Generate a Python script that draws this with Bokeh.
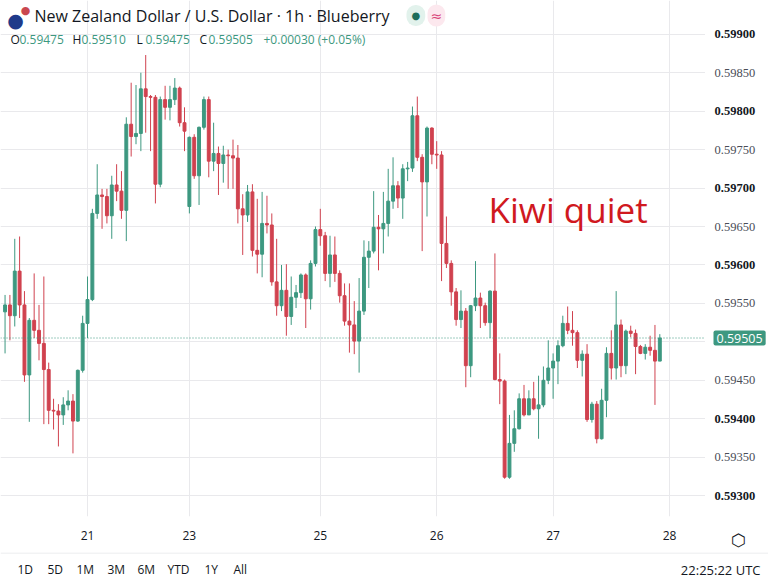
from bokeh.embed import file_html
from bokeh.layouts import column, row
from bokeh.models import BoxAnnotation, ColumnDataSource, FixedTicker, Label, Range1d, Span
from bokeh.plotting import figure
from bokeh.resources import INLINE

# hourly NZD/USD candles
opens = [
    0.59539, 0.59548, 0.59534, 0.59592, 0.59548, 0.59457, 0.59528, 0.59515, 0.59498, 0.59464,
    0.59411, 0.59410, 0.59405, 0.59418, 0.59423, 0.59397, 0.59463, 0.59524, 0.59555, 0.59667,
    0.59691, 0.59689, 0.59664, 0.59704, 0.59696, 0.59671, 0.59783, 0.59767, 0.59771, 0.59829,
    0.59819, 0.59818, 0.59705, 0.59815, 0.59805, 0.59815, 0.59830, 0.59785, 0.59676, 0.59766,
    0.59716, 0.59779, 0.59815, 0.59735, 0.59745, 0.59732, 0.59743, 0.59742, 0.59739, 0.59673,
    0.59665, 0.59695, 0.59619, 0.59614, 0.59654, 0.59652, 0.59578, 0.59547, 0.59567, 0.59533,
    0.59558, 0.59564, 0.59587, 0.59556, 0.59602, 0.59646, 0.59638, 0.59589, 0.59613, 0.59589,
    0.59560, 0.59527, 0.59522, 0.59501, 0.59540, 0.59610, 0.59618, 0.59649, 0.59647, 0.59654,
    0.59683, 0.59703, 0.59687, 0.59725, 0.59726, 0.59794, 0.59740, 0.59708, 0.59778, 0.59744,
    0.59743, 0.59628, 0.59602, 0.59565, 0.59529, 0.59540, 0.59469, 0.59547, 0.59557, 0.59547,
    0.59525, 0.59566, 0.59451, 0.59449, 0.59324, 0.59368, 0.59387, 0.59426, 0.59405, 0.59426,
    0.59413, 0.59418, 0.59450, 0.59466, 0.59475, 0.59495, 0.59524, 0.59515, 0.59512, 0.59476,
    0.59484, 0.59399, 0.59419, 0.59374, 0.59424, 0.59485, 0.59466, 0.59522, 0.59469, 0.59514,
    0.59511, 0.59494, 0.59485, 0.59493, 0.59489, 0.59475,
]
highs = [
    0.59561, 0.59561, 0.59634, 0.59637, 0.59566, 0.59531, 0.59589, 0.59548, 0.59585, 0.59473,
    0.59426, 0.59419, 0.59428, 0.59437, 0.59432, 0.59464, 0.59534, 0.59585, 0.59673, 0.59731,
    0.59699, 0.59699, 0.59716, 0.59731, 0.59722, 0.59792, 0.59837, 0.59834, 0.59850, 0.59873,
    0.59821, 0.59821, 0.59819, 0.59833, 0.59833, 0.59843, 0.59832, 0.59805, 0.59767, 0.59770,
    0.59780, 0.59819, 0.59819, 0.59785, 0.59754, 0.59755, 0.59750, 0.59763, 0.59756, 0.59692,
    0.59704, 0.59705, 0.59686, 0.59695, 0.59690, 0.59667, 0.59634, 0.59600, 0.59601, 0.59585,
    0.59574, 0.59589, 0.59589, 0.59606, 0.59650, 0.59673, 0.59643, 0.59638, 0.59637, 0.59593,
    0.59576, 0.59576, 0.59553, 0.59583, 0.59632, 0.59631, 0.59696, 0.59665, 0.59695, 0.59725,
    0.59740, 0.59709, 0.59731, 0.59734, 0.59806, 0.59819, 0.59744, 0.59780, 0.59779, 0.59761,
    0.59748, 0.59663, 0.59606, 0.59570, 0.59567, 0.59544, 0.59548, 0.59605, 0.59564, 0.59551,
    0.59567, 0.59615, 0.59485, 0.59451, 0.59405, 0.59411, 0.59433, 0.59444, 0.59437, 0.59448,
    0.59456, 0.59468, 0.59502, 0.59485, 0.59502, 0.59534, 0.59546, 0.59540, 0.59515, 0.59489,
    0.59497, 0.59422, 0.59423, 0.59439, 0.59493, 0.59515, 0.59566, 0.59529, 0.59516, 0.59521,
    0.59516, 0.59496, 0.59497, 0.59508, 0.59522, 0.59510,
]
lows = [
    0.59485, 0.59502, 0.59520, 0.59531, 0.59448, 0.59396, 0.59505, 0.59476, 0.59393, 0.59393,
    0.59386, 0.59364, 0.59392, 0.59411, 0.59355, 0.59396, 0.59460, 0.59505, 0.59553, 0.59660,
    0.59647, 0.59654, 0.59634, 0.59683, 0.59660, 0.59631, 0.59741, 0.59757, 0.59748, 0.59772,
    0.59748, 0.59680, 0.59701, 0.59789, 0.59788, 0.59808, 0.59780, 0.59748, 0.59667, 0.59712,
    0.59678, 0.59776, 0.59714, 0.59722, 0.59691, 0.59707, 0.59699, 0.59699, 0.59654, 0.59613,
    0.59656, 0.59611, 0.59589, 0.59584, 0.59641, 0.59573, 0.59534, 0.59540, 0.59508, 0.59522,
    0.59544, 0.59557, 0.59518, 0.59542, 0.59598, 0.59625, 0.59579, 0.59571, 0.59578, 0.59551,
    0.59521, 0.59486, 0.59484, 0.59460, 0.59535, 0.59570, 0.59615, 0.59593, 0.59615, 0.59637,
    0.59673, 0.59674, 0.59660, 0.59709, 0.59721, 0.59735, 0.59618, 0.59663, 0.59731, 0.59725,
    0.59579, 0.59596, 0.59547, 0.59521, 0.59518, 0.59441, 0.59454, 0.59540, 0.59518, 0.59521,
    0.59505, 0.59450, 0.59419, 0.59322, 0.59322, 0.59357, 0.59386, 0.59403, 0.59405, 0.59411,
    0.59374, 0.59415, 0.59445, 0.59426, 0.59445, 0.59493, 0.59510, 0.59495, 0.59466, 0.59455,
    0.59396, 0.59395, 0.59368, 0.59373, 0.59402, 0.59451, 0.59451, 0.59454, 0.59458, 0.59506,
    0.59458, 0.59484, 0.59477, 0.59482, 0.59418, 0.59475,
]
closes = [
    0.59548, 0.59534, 0.59592, 0.59548, 0.59457, 0.59528, 0.59515, 0.59498, 0.59464, 0.59411,
    0.59410, 0.59405, 0.59418, 0.59423, 0.59397, 0.59463, 0.59524, 0.59555, 0.59667, 0.59691,
    0.59689, 0.59664, 0.59704, 0.59696, 0.59671, 0.59783, 0.59767, 0.59771, 0.59829, 0.59819,
    0.59818, 0.59705, 0.59815, 0.59805, 0.59815, 0.59830, 0.59785, 0.59774, 0.59766, 0.59716,
    0.59779, 0.59815, 0.59735, 0.59745, 0.59732, 0.59743, 0.59742, 0.59739, 0.59673, 0.59665,
    0.59695, 0.59619, 0.59614, 0.59654, 0.59652, 0.59578, 0.59547, 0.59567, 0.59533, 0.59558,
    0.59564, 0.59587, 0.59556, 0.59602, 0.59646, 0.59638, 0.59589, 0.59613, 0.59589, 0.59560,
    0.59527, 0.59522, 0.59501, 0.59540, 0.59610, 0.59618, 0.59649, 0.59647, 0.59654, 0.59683,
    0.59703, 0.59687, 0.59725, 0.59726, 0.59794, 0.59740, 0.59708, 0.59778, 0.59744, 0.59743,
    0.59628, 0.59602, 0.59565, 0.59529, 0.59540, 0.59469, 0.59547, 0.59557, 0.59547, 0.59525,
    0.59566, 0.59451, 0.59449, 0.59324, 0.59368, 0.59387, 0.59426, 0.59405, 0.59426, 0.59413,
    0.59418, 0.59450, 0.59466, 0.59475, 0.59495, 0.59524, 0.59515, 0.59512, 0.59476, 0.59484,
    0.59399, 0.59419, 0.59374, 0.59424, 0.59485, 0.59466, 0.59522, 0.59469, 0.59514, 0.59511,
    0.59494, 0.59485, 0.59493, 0.59489, 0.59475, 0.59505,
]

# day labels sit on the first bar of each day (weekend gap after bar 37)
day_bars = [17, 38, 65, 89, 113, 137]
day_labels = ["21", "23", "25", "26", "27", "28"]

grid_prices = [0.593, 0.5935, 0.594, 0.5945, 0.595, 0.5955, 0.596, 0.5965, 0.597, 0.5975, 0.598, 0.5985, 0.599]
axis_prices = [0.593, 0.5935, 0.594, 0.5945, 0.5955, 0.596, 0.5965, 0.597, 0.5975, 0.598, 0.5985, 0.599]

range_buttons = ["1D", "5D", "1M", "3M", "6M", "YTD", "1Y", "All"]

UP = "#3d9880"
DOWN = "#d0424f"
INK = "#131722"
FONT = "Open Sans"

CHART_W, CHART_H, AXIS_H, SCALE_W, BAR_H = 705, 520, 32, 63, 25
Y0, Y1 = 0.592729, 0.599439


def no_ticks(axis, standoff):
    axis.axis_line_color = None
    axis.major_tick_line_color = None
    axis.minor_tick_line_color = None
    axis.major_label_standoff = standoff


# ---- main chart ----
p = figure(width=CHART_W, height=CHART_H + AXIS_H, output_backend="svg", toolbar_location=None,
           x_range=Range1d(-0.94, 144.42), y_range=Range1d(Y0, Y1),
           y_axis_location=None, min_border_left=0, min_border_right=0,
           min_border_top=0, min_border_bottom=AXIS_H, outline_line_color=None)

p.xaxis.ticker = FixedTicker(ticks=day_bars)
p.xaxis.major_label_overrides = {b: t for b, t in zip(day_bars, day_labels)}
no_ticks(p.xaxis, 8)
p.xaxis.major_label_text_font = FONT
p.xaxis.major_label_text_font_size = "12px"
p.xaxis.major_label_text_color = INK

p.xgrid.ticker = FixedTicker(ticks=day_bars)
p.ygrid.ticker = FixedTicker(ticks=grid_prices)
p.grid.grid_line_color = "#e9e9ec"

src = ColumnDataSource(data=dict(
    x=list(range(len(closes))),
    high=highs,
    low=lows,
    top=[max(o, c) for o, c in zip(opens, closes)],
    bottom=[min(o, c) for o, c in zip(opens, closes)],
    color=[UP if c >= o else DOWN for o, c in zip(opens, closes)],
))
p.segment(x0="x", y0="low", x1="x", y1="high", line_color="color", line_width=1, source=src)
p.vbar(x="x", width=0.6, top="top", bottom="bottom", fill_color="color",
       line_color="color", line_width=1, source=src)

p.add_layout(Span(location=closes[-1], dimension="width", line_color=UP,
                  line_dash="1 2", line_width=1))


def screen_label(fig, x, y, text, **kw):
    kw.setdefault("text_font", FONT)
    kw.setdefault("text_font_size", "12px")
    kw.setdefault("text_color", INK)
    fig.add_layout(Label(x=x, y=y, x_units="screen", y_units="screen", text=text,
                         text_baseline="middle", **kw))


# header (y counted up from the frame bottom)
screen_label(p, 15, 497, "●", text_font="DejaVu Sans", text_font_size="19px",
             text_color="#1f3a8a", text_align="center")
screen_label(p, 25, 506, "●", text_font="DejaVu Sans", text_font_size="11px",
             text_color="#c9474f", text_align="center")
screen_label(p, 34, 501, "New Zealand Dollar / U.S. Dollar · 1h · Blueberry", text_font_size="16px")
screen_label(p, 406, 501, "●", text_font="DejaVu Sans", text_font_size="10px", text_color="#1e6f5c",
             background_fill_color="#e2f2ec", padding=5, border_radius=9)
screen_label(p, 427, 501, "≈", text_font="DejaVu Sans", text_font_size="14px", text_color="#d9477a",
             background_fill_color="#fce8ee", padding=3, border_radius=9)

change = closes[-1] - closes[-2]
pct = change / closes[-2] * 100
ohlc = [("O", 10, f"{opens[-1]:.5f}"), ("H", 72, f"{highs[-1]:.5f}"),
        ("L", 136, f"{lows[-1]:.5f}"), ("C", 199, f"{closes[-1]:.5f}")]
for letter, x, val in ohlc:
    screen_label(p, x, 477, letter)
    screen_label(p, x + 9, 477, val, text_color=UP)
screen_label(p, 263, 477, f"+{change:.5f} (+{pct:.2f}%)", text_color=UP)

screen_label(p, 488, 307, "Kiwi quiet", text_font_size="35px", text_color="#d0191f")

# ---- price scale, sharing the chart's vertical range ----
ps = figure(width=SCALE_W, height=CHART_H + AXIS_H, output_backend="svg", toolbar_location=None,
            x_range=Range1d(0, SCALE_W), y_range=p.y_range,
            y_axis_location=None, min_border_left=0, min_border_right=0,
            min_border_top=0, min_border_bottom=AXIS_H, outline_line_color=None)
ps.grid.visible = False
# settings icon sits in the scale's axis strip
ps.xaxis.ticker = FixedTicker(ticks=[33])
ps.xaxis.major_label_overrides = {33: "⬡"}
no_ticks(ps.xaxis, 7)
ps.xaxis.major_label_text_font = "DejaVu Sans"
ps.xaxis.major_label_text_font_size = "17px"
ps.xaxis.major_label_text_color = INK

bold = [abs(t * 1000 - round(t * 1000)) < 1e-6 for t in axis_prices]
ps.text(x=9, y=axis_prices, text=[f"{t:.5f}" for t in axis_prices],
        text_baseline="middle", text_font=FONT, text_font_size="12.5px",
        text_color=[INK if b else "#4a4d57" for b in bold],
        text_font_style=["bold" if b else "normal" for b in bold])
ps.add_layout(Label(x=8, y=closes[-1], text=f"{closes[-1]:.5f}", text_baseline="middle",
                    text_font=FONT, text_font_size="12.5px", text_color="white",
                    background_fill_color=UP, padding=3, border_radius=2))

# ---- bottom bar ----
pb = figure(width=CHART_W + SCALE_W, height=BAR_H, output_backend="svg", toolbar_location=None,
            x_range=Range1d(0, 1), y_range=Range1d(0, 1),
            x_axis_location=None, y_axis_location=None, min_border=0, outline_line_color=None)
pb.grid.visible = False
pb.add_layout(BoxAnnotation(top=BAR_H, bottom=BAR_H - 1, top_units="screen", bottom_units="screen",
                            fill_color="#e6e7ea", fill_alpha=1, line_color=None))
bx = [17, 47, 76, 107, 137, 167, 204, 233]
for x, t in zip(bx, range_buttons):
    screen_label(pb, x, 8, t)
screen_label(pb, 760, 8, "22:25:22 UTC", text_align="right", text_font_size="13px")

layout = column(row(p, ps), pb)
open("out.html", "w").write(file_html(layout, INLINE))
